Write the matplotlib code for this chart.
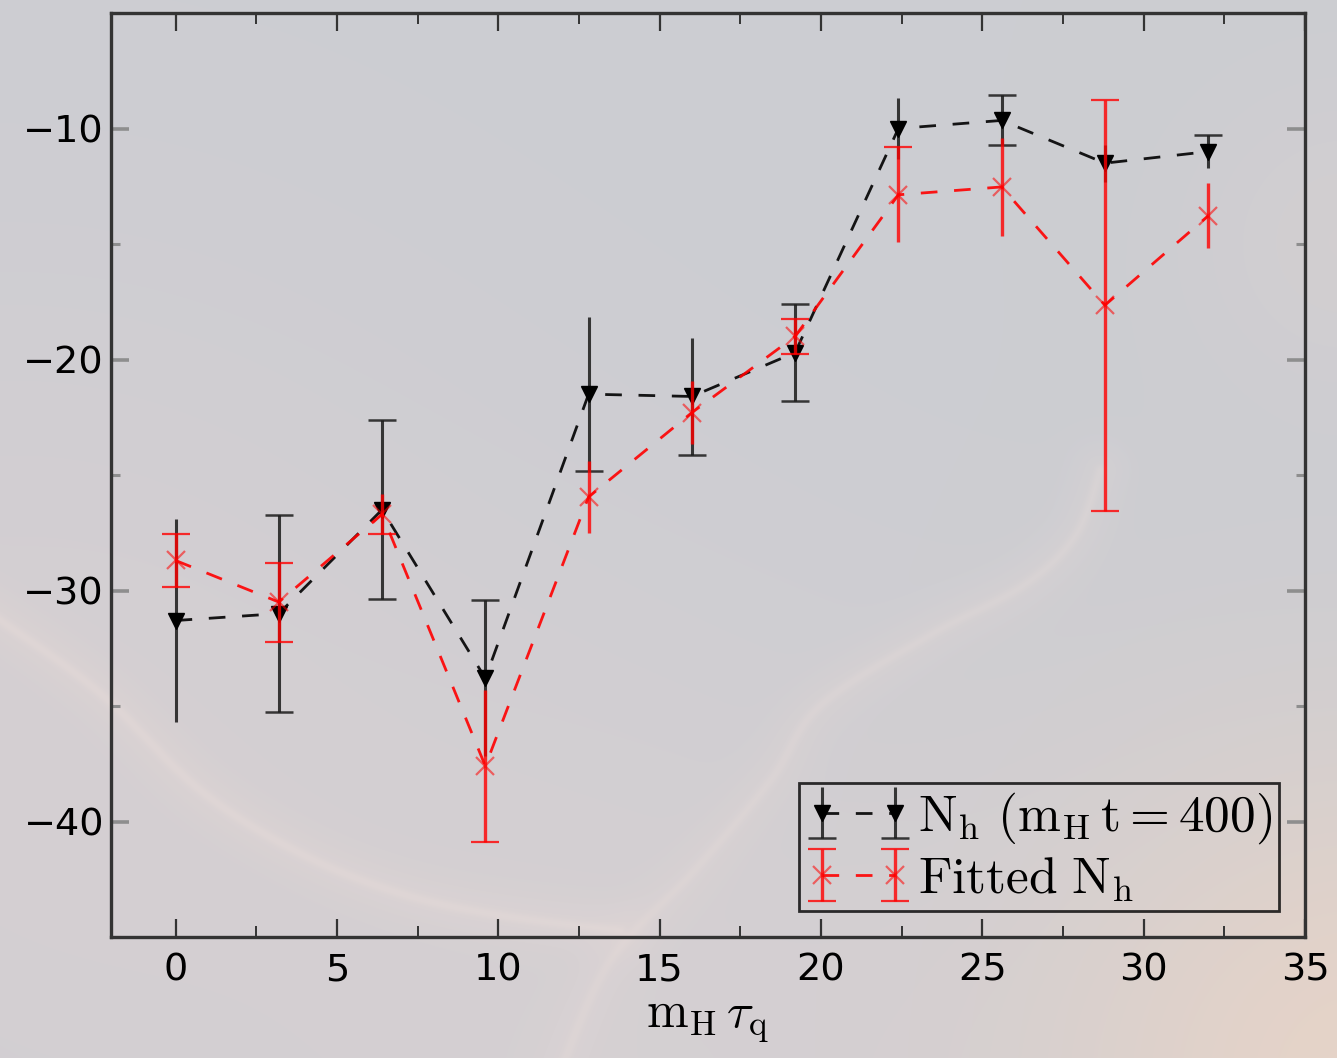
import numpy as np
import matplotlib
matplotlib.use("Agg")
import matplotlib.pyplot as plt
from matplotlib.lines import Line2D
from matplotlib.ticker import MultipleLocator, AutoMinorLocator

# ---- data ---------------------------------------------------------------
tau_q = [0.0, 3.2, 6.4, 9.6, 12.8, 16.0, 19.2, 22.4, 25.6, 28.8, 32.0]

nh_t400 = [-31.3, -31.0, -26.5, -33.8, -21.5, -21.6, -19.7, -10.0, -9.65, -11.5, -11.0]
nh_t400_err = [4.4, 4.26, 3.87, 3.37, 3.33, 2.53, 2.1, 1.3, 1.08, 0.8, 0.71]

nh_fit = [-28.7, -30.5, -26.7, -37.6, -25.95, -22.3, -19.0, -12.87, -12.53, -17.65, -13.78]
nh_fit_err = [1.15, 1.71, 0.87, 3.29, 1.56, 1.36, 0.76, 2.05, 2.14, 8.9, 1.41]

label_t400 = r"$\mathrm{N_h\ (m_H\,t = 400)}$"
label_fit = r"$\mathrm{Fitted\ N_h}$"
xlabel = r"$\mathrm{m_H}\,\tau_\mathrm{q}$"

# indices of points whose lower / upper caps are drawn
t400_caps = ([1, 2, 4, 5, 6, 8], [1, 2, 3, 6, 8, 10])
fit_caps = ([0, 1, 2, 3, 6, 9], [0, 1, 6, 7, 9])

plt.rcParams["mathtext.fontset"] = "cm"
plt.rcParams["font.family"] = ["DejaVu Sans"]

W, H = 1337, 1058
fig = plt.figure(figsize=(W / 100, H / 100), dpi=100)

# ---- hazy nebula backdrop ------------------------------------------------
yy, xx = np.mgrid[0:H, 0:W].astype(float)
img = np.empty((H, W, 3))
img[:] = np.array([204, 205, 210]) / 255.0


def blend(weight, rgb):
    global img
    c = np.array(rgb) / 255.0
    w = np.clip(weight, 0, 1)[..., None]
    img = img * (1 - w) + c * w


def blob(cx, cy, s):
    return np.exp(-((xx - cx) ** 2 + (yy - cy) ** 2) / (2 * s * s))


def smooth_path(pts, n=400):
    # Catmull-Rom resampling of a few guide points
    p = np.asarray(pts, float)
    p = np.vstack([p[0], p, p[-1]])
    out = []
    for i in range(1, len(p) - 2):
        p0, p1, p2, p3 = p[i - 1], p[i], p[i + 1], p[i + 2]
        for t in np.linspace(0, 1, n // (len(p) - 3), endpoint=False):
            t2, t3 = t * t, t * t * t
            out.append(0.5 * ((2 * p1) + (-p0 + p2) * t
                              + (2 * p0 - 5 * p1 + 4 * p2 - p3) * t2
                              + (-p0 + 3 * p1 - 3 * p2 + p3) * t3))
    out.append(p[-2])
    return np.array(out)


def path_dist(pts):
    d = np.full(xx.shape, np.inf)
    for (x0, y0), (x1, y1) in zip(pts[:-1], pts[1:]):
        vx, vy = x1 - x0, y1 - y0
        L2 = vx * vx + vy * vy
        if L2 == 0:
            continue
        t = np.clip(((xx - x0) * vx + (yy - y0) * vy) / L2, 0, 1)
        d = np.minimum(d, np.hypot(xx - (x0 + t * vx), yy - (y0 + t * vy)))
    return d


blend(0.45 * blob(0, 760, 380), (222, 210, 210))
blend(0.40 * blob(650, 1100, 330), (224, 212, 212))
blend(0.70 * blob(1370, 1080, 240), (240, 214, 196))
blend(0.30 * blob(1345, 240, 110), (224, 210, 206))

arc = [(-60, 580), (0, 620), (100, 693), (200, 790), (300, 853),
       (400, 893), (500, 915), (620, 930)]
rise = [(560, 1070), (610, 960), (694, 870), (770, 780), (820, 705),
        (929, 635), (1023, 585), (1075, 535), (1100, 470)]
for guide, k in ((arc, 1.0), (rise, 0.75)):
    d = path_dist(smooth_path(guide, 120))
    blend(k * 0.28 * np.exp(-(d / 28) ** 2), (230, 216, 213))
    blend(k * 0.25 * np.exp(-(d / 5) ** 2), (240, 226, 220))

fig.figimage(img, 0, 0, origin="upper", zorder=-10)

# ---- axes -----------------------------------------------------------------
ax = fig.add_axes([111 / W, 1 - 937 / H, (1305 - 111) / W, (937 - 13) / H])
ax.set_facecolor("none")

eb1 = ax.errorbar(tau_q, nh_t400, yerr=nh_t400_err, color=(0, 0, 0, 0.9),
                  marker="v", ms=12, mec="black", mfc="black",
                  linestyle="--", dashes=(6, 6), lw=2.0,
                  ecolor=(0.1, 0.1, 0.1, 0.85), elinewidth=2.2,
                  capsize=10, capthick=1.8, label=label_t400, zorder=3)
eb2 = ax.errorbar(tau_q, nh_fit, yerr=nh_fit_err, color=(1, 0, 0, 0.9),
                  marker="x", ms=13, mew=1.6, mec=(1, 0, 0, 0.55),
                  linestyle="--", dashes=(6, 6), lw=2.0,
                  ecolor=(1, 0, 0, 0.8), elinewidth=2.4,
                  capsize=10, capthick=1.8, label=label_fit, zorder=4)

ax.set_xlim(-2, 35)
ax.set_ylim(-45, -5)
ax.xaxis.set_major_locator(MultipleLocator(5))
ax.xaxis.set_minor_locator(AutoMinorLocator(2))
ax.yaxis.set_major_locator(MultipleLocator(10))
ax.yaxis.set_minor_locator(AutoMinorLocator(2))

for s in ax.spines.values():
    s.set_linewidth(2.4)
    s.set_color("#333333")

ax.tick_params(axis="both", which="both", direction="in", top=True, right=True)
ax.tick_params(axis="x", which="major", length=13, width=1.6, color="#333333",
               labelsize=27.5, pad=11)
ax.tick_params(axis="x", which="minor", length=8, width=1.4, color="#333333")
ax.tick_params(axis="y", which="major", length=13, width=2.6, color="#8e8e8e",
               labelsize=27.5, pad=5)
ax.tick_params(axis="y", which="minor", length=6.5, width=2.2, color="#8e8e8e")

ax.set_xlabel(xlabel, fontsize=36, labelpad=6)

leg = ax.legend(loc="lower right", fontsize=37, numpoints=2,
                handlelength=2.02, handletextpad=0.147, borderpad=0.14,
                labelspacing=0.16, borderaxespad=0.5, fancybox=False,
                frameon=True)
frame = leg.get_frame()
frame.set_facecolor("none")
frame.set_edgecolor("black")
frame.set_linewidth(2.0)

# the first legend entry shows only its lower caps
black_caps = [ln for ln in leg.findobj(Line2D)
              if ln.get_marker() == "_" and
              matplotlib.colors.to_rgba(ln.get_color())[0] < 0.5]
if len(black_caps) == 2:
    upper = max(black_caps, key=lambda ln: np.mean(ln.get_ydata()))
    upper.set_visible(False)

# drop the caps that are not wanted (after the legend copied the style)
for container, (lo, hi) in ((eb1, t400_caps), (eb2, fit_caps)):
    caps = container.lines[1]
    caps[0].set_markevery(lo)
    caps[1].set_markevery(hi)

fig.savefig("out.png", dpi=100)
